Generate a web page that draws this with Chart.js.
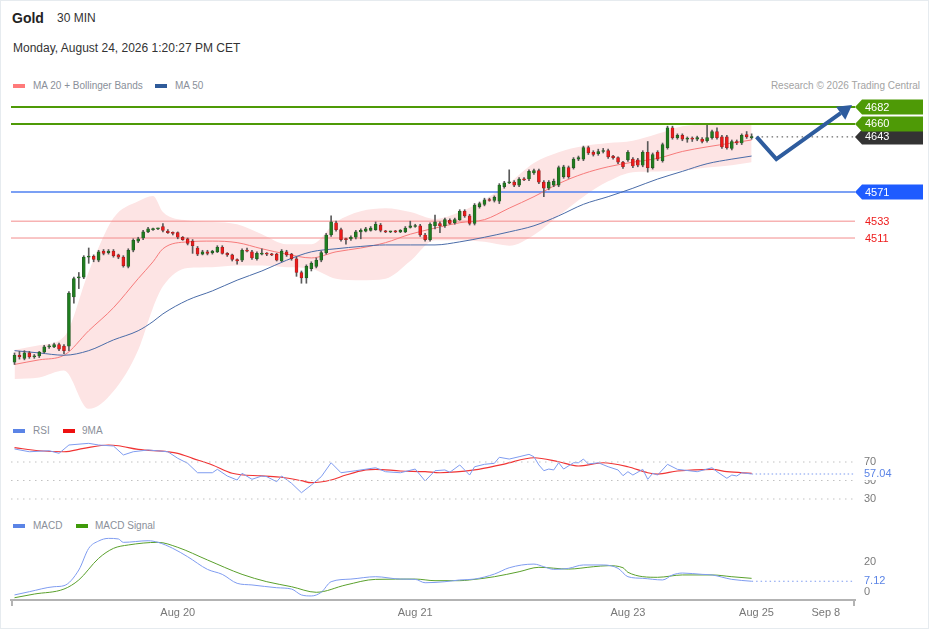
<!DOCTYPE html>
<html>
<head>
<meta charset="utf-8">
<title>Gold 30 MIN</title>
<script src="https://cdn.jsdelivr.net/npm/chart.js@4.4.1/dist/chart.umd.min.js"></script>
<style>
  html, body { margin: 0; padding: 0; background: #fff; }
  #page { position: relative; width: 929px; height: 629px; overflow: hidden;
          font-family: "Liberation Sans", Arial, sans-serif; box-shadow: inset 0 0 0 1px #e6ebef; }
  .txt { position: absolute; white-space: nowrap; }
  .sw { position: absolute; width: 12px; height: 4px; }
  canvas { position: absolute; left: 0; }
</style>
</head>
<body>
<div id="page">
  <div class="txt" style="left:12px;top:10px;font-size:14px;line-height:16px;font-weight:bold;color:#222">Gold</div>
  <div class="txt" style="left:57px;top:10px;font-size:12px;line-height:16px;color:#333">30 MIN</div>
  <div class="txt" style="left:13px;top:40px;font-size:12px;line-height:16px;color:#333">Monday, August 24, 2026 1:20:27 PM CET</div>

  <div class="sw" style="left:13px;top:84px;background:#ff7a7a"></div>
  <div class="txt" style="left:33px;top:80px;font-size:10px;line-height:12px;color:#8a8f99">MA 20 + Bollinger Bands</div>
  <div class="sw" style="left:155px;top:84px;background:#2f5b9a"></div>
  <div class="txt" style="left:175px;top:80px;font-size:10px;line-height:12px;color:#8a8f99">MA 50</div>
  <div class="txt" style="right:9px;top:80px;font-size:10px;line-height:12px;color:#a3a3a3">Research © 2026 Trading Central</div>

  <div class="sw" style="left:13px;top:429px;background:#5b84e6"></div>
  <div class="txt" style="left:33px;top:425px;font-size:10px;line-height:12px;color:#8a8f99">RSI</div>
  <div class="sw" style="left:63px;top:429px;background:#ee1111"></div>
  <div class="txt" style="left:82px;top:425px;font-size:10px;line-height:12px;color:#8a8f99">9MA</div>

  <div class="sw" style="left:13px;top:524px;background:#5b84e6"></div>
  <div class="txt" style="left:33px;top:520px;font-size:10px;line-height:12px;color:#8a8f99">MACD</div>
  <div class="sw" style="left:76px;top:524px;background:#3f9a0a"></div>
  <div class="txt" style="left:95px;top:520px;font-size:10px;line-height:12px;color:#8a8f99">MACD Signal</div>

  <canvas id="price" width="929" height="320" style="top:95px"></canvas>
  <canvas id="rsi" width="929" height="70" style="top:440px"></canvas>
  <canvas id="macd" width="929" height="99" style="top:530px"></canvas>
</div>

<script>
// 30 min candles, index 0 = first bar on the left
const open  = [4349,4358,4354,4361,4356,4357,4362,4369,4369,4372,4370,4370,4434,4459,4460,4486,4487,4482,4494,4492,
               4494,4489,4486,4474,4495,4507,4511,4519,4522,4523,4526,4520,4518,4518,4512,4510,4507,4498,4490,4493,
               4492,4493,4499,4491,4489,4483,4482,4495,4493,4484,4490,4491,4490,4490,4481,4493,4490,4484,4466,4459,
               4471,4474,4482,4492,4515,4531,4522,4510,4510,4512,4519,4520,4521,4522,4528,4520,4519,4520,4519,4519,
               4525,4526,4527,4515,4509,4527,4530,4527,4534,4531,4535,4546,4540,4530,4552,4555,4561,4560,4559,4578,
               4583,4584,4580,4588,4588,4596,4599,4584,4576,4580,4580,4591,4603,4603,4614,4614,4629,4623,4621,4624,
               4625,4618,4616,4610,4613,4614,4613,4606,4623,4603,4623,4612,4629,4655,4642,4645,4640,4641,4640,4640,
               4638,4642,4650,4643,4643,4628,4637,4635,4646,4642];
const high  = [4361,4363,4364,4363,4359,4363,4371,4372,4374,4374,4372,4441,4460,4466,4488,4498,4489,4495,4496,4496,
               4496,4490,4488,4497,4510,4512,4521,4525,4524,4524,4530,4522,4519,4519,4513,4511,4509,4500,4495,4495,
               4495,4501,4501,4492,4490,4484,4497,4498,4495,4493,4497,4492,4491,4491,4496,4495,4491,4486,4468,4476,
               4480,4485,4494,4517,4540,4533,4524,4511,4514,4521,4523,4525,4526,4532,4530,4521,4520,4521,4522,4526,
               4533,4529,4529,4517,4531,4541,4532,4537,4536,4537,4548,4548,4542,4556,4558,4563,4563,4566,4582,4585,
               4600,4586,4590,4590,4600,4601,4601,4586,4586,4588,4605,4606,4605,4616,4618,4631,4631,4625,4627,4628,
               4627,4619,4617,4611,4625,4616,4615,4625,4637,4622,4625,4635,4657,4657,4647,4647,4643,4643,4644,4642,
               4658,4652,4655,4645,4645,4639,4639,4647,4650,4647];
const low   = [4346,4353,4352,4354,4354,4355,4361,4367,4368,4364,4360,4364,4426,4445,4458,4478,4480,4480,4489,4490,
               4486,4484,4473,4472,4493,4505,4509,4518,4521,4522,4519,4517,4515,4510,4508,4502,4491,4488,4489,4489,
               4490,4492,4490,4487,4481,4477,4480,4493,4483,4482,4489,4488,4488,4481,4480,4487,4482,4461,4452,4452,
               4468,4472,4480,4490,4513,4520,4507,4503,4508,4510,4510,4519,4520,4521,4519,4518,4518,4518,4518,4518,
               4524,4525,4513,4507,4507,4523,4518,4525,4529,4529,4534,4538,4528,4528,4550,4553,4559,4558,4556,4576,
               4582,4578,4578,4586,4586,4594,4582,4565,4574,4578,4578,4589,4589,4601,4612,4612,4620,4618,4619,4622,
               4615,4614,4608,4602,4611,4603,4604,4604,4597,4601,4612,4610,4627,4640,4640,4638,4636,4637,4638,4635,
               4636,4640,4640,4628,4627,4626,4633,4633,4641,4640];
const close = [4358,4356,4361,4356,4357,4362,4369,4370,4372,4366,4364,4439,4458,4460,4486,4487,4483,4493,4491,4494,
               4488,4486,4475,4495,4508,4510,4519,4523,4523,4524,4521,4518,4517,4512,4509,4504,4501,4490,4493,4491,
               4494,4499,4491,4489,4483,4481,4495,4494,4485,4491,4491,4490,4489,4482,4494,4489,4484,4466,4459,4474,
               4478,4482,4492,4515,4532,4522,4509,4509,4512,4519,4521,4523,4524,4529,4521,4519,4520,4519,4521,4524,
               4527,4527,4515,4509,4529,4532,4527,4535,4530,4535,4546,4540,4530,4554,4556,4561,4560,4564,4580,4583,
               4584,4580,4588,4587,4598,4599,4584,4576,4584,4585,4603,4604,4591,4614,4616,4629,4622,4620,4624,4625,
               4617,4616,4610,4604,4623,4605,4606,4623,4603,4620,4614,4633,4655,4642,4645,4640,4641,4640,4642,4637,
               4642,4650,4642,4630,4629,4637,4635,4645,4643,4643];

// indicator lines read at these bar indices
const sampleIdx = [0,5,10,15,20,25,28,30,35,40,45,50,55,60,65,70,75,80,85,90,95,100,105,110,115,120,125,130,135,140,145,149];
const ma20    = [4346,4352,4358,4390,4420,4458,4480,4497,4506,4507,4505,4497,4490,4485,4493,4498,4505,4516,4524,4531,4535,4550,4565,4582,4595,4604,4610,4615,4624,4630,4635,4639];
const ma50    = [4364,4361,4358,4364,4378,4390,4402,4412,4430,4442,4456,4468,4482,4493,4497,4500,4502,4502,4502,4506,4512,4519,4527,4540,4555,4565,4576,4588,4598,4608,4614,4618];
const bbUpper = [4365,4371,4382,4467,4537,4559,4566,4545,4534,4532,4529,4516,4503,4503,4532,4546,4550,4545,4536,4545,4561,4583,4609,4623,4631,4635,4638,4647,4657,4659,4660,4659];
const bbLower = [4327,4329,4338,4288,4311,4365,4420,4448,4472,4473,4475,4475,4473,4471,4458,4456,4458,4481,4508,4508,4506,4501,4515,4540,4565,4585,4597,4598,4599,4603,4606,4610];

// price levels on the right
const levels    = [4682, 4660, 4643, 4571, 4533, 4511];
const levelKind = ['res', 'res', 'last', 'sup', 'pivot', 'pivot'];

// forecast arrow
const forecastIdx = [150, 154, 167];
const forecastVal = [4643, 4614, 4674];

// RSI panel
const rsiIdx = [0,3,7,9,11,15,17,20,22,24,27,31,33,35,37,40,41,43,45,46,48,50,51,53,54,56,58,60,62,64,66,69,73,75,78,81,83,85,87,88,
                90,92,93,95,97,98,100,102,104,105,106,107,108,109,110,111,113,114,115,116,118,120,122,123,124,125,127,128,129,130,
                132,134,138,141,142,144,145,146,147,149];
const rsi    = [84.1,81.1,82.2,79.4,88.4,90.2,88.4,87.3,77.6,81.1,83,81.1,74,68.6,58.4,58.4,62.1,54.9,50.5,57.8,51.3,54.9,54.1,48.7,54.9,
                47,36.8,45.1,54.1,69.2,58.4,60.6,63.8,59.5,58.4,62.4,49.5,60.6,61.4,58.9,66.8,55.9,64.9,67.5,68.6,75.1,73.2,75.7,78.3,75.7,
                66.8,60.6,62.4,61.4,69.2,62.4,69.2,69.2,73.2,67.8,69.2,64.9,61.4,55.2,59.5,55.9,62.1,51.3,57.8,55.9,67.5,62.1,59.5,63.8,59.5,
                52.4,55.9,54.9,58.4,57.04];
const rsiMaIdx = [0,5,10,14,19,21,25,31,33,36,40,44,50,54,58,60,64,67,71,73,78,83,86,93,99,105,110,114,119,124,128,130,134,141,144,149];
const rsiMa    = [85.5,82.2,81.1,84.8,88.4,87.6,83.7,81.1,79.4,74,66.8,57.8,54.9,53.5,49.8,47.6,50.5,55.9,61.4,62.1,60.3,59.5,58.4,61.4,67.8,
                  74.6,70.3,65.7,69.2,64.9,58.4,57,60.3,62.1,59.5,57.8];
const rsiLevels = [70, 50, 30];

// MACD panel
const macdIdx = [0,3,8,10,13,15,17,19,21,22,27,29,32,35,39,42,45,48,53,56,58,60,62,64,68,73,78,81,83,87,90,93,97,100,105,107,109,112,115,119,
                 122,124,127,131,133,135,139,141,145,149];
const macd    = [-2.2,0,3.4,4.1,14.8,29.5,34.5,36.3,35.9,33.6,34.7,33.6,29.5,23.8,15.2,11.8,5.7,4.6,2.7,1.8,-2.2,-2.9,-0.4,6.8,8.6,
                 10.2,8.6,8.4,6.1,6.8,8,8.6,12,16.3,18.8,17,15.2,15.9,18.2,18.2,15.9,10.2,9.1,8,11.4,12.7,11.8,11.4,8.4,7.12];
const signalIdx = [0,4,10,13,17,20,23,29,33,39,46,51,56,61,67,73,81,85,90,92,97,102,106,112,117,120,123,124,130,135,141,145,149];
const signal    = [-4.1,-1.6,1.8,8,22.7,29.5,31.8,33.6,30.2,21.6,11.8,6.8,3.4,-0.4,4.6,8.4,8.6,7.5,7.5,8,10.2,13.6,16.6,15.4,17,17.7,
                   16.3,13.2,9.8,11.4,11.4,10.2,9.1];
const macdLevels = [20, 0];

// time axis labels
const tickIdx  = [33, 81, 124, 150, 164];
const tickText = ['Aug 20', 'Aug 21', 'Aug 23', 'Aug 25', 'Sep 8'];

// ---- layout / style ----
const FONT = '"Liberation Sans", Arial, sans-serif';
const X_MIN = -0.71, X_MAX = 169.9;
const PAD = {left: 11, right: 74, top: 0, bottom: 0};
const lastIdx = close.length - 1;
const kindStyle = {
  res:   {line: '#4e9a06', width: 2, box: '#4e9a06'},
  last:  {line: '#444444', width: 1, box: '#333333', dash: [1.5, 3.5]},
  sup:   {line: '#4f80f0', width: 1.5, box: '#1e5cff'},
  pivot: {line: '#f38c8c', width: 1, text: '#ee1c1c'}
};

const pts = (xs, ys) => xs.map((x, i) => ({x: x, y: ys[i]}));
const flat = (x0, x1, v) => [{x: x0, y: v}, {x: x1, y: v}];

function xAxis(show) {
  const axis = {
    type: 'linear', min: X_MIN, max: X_MAX, offset: false, display: show,
    grid: {display: false, drawTicks: false},
    border: {display: show, color: '#b3b3b3', width: 2},
    afterBuildTicks: (s) => { s.ticks = tickIdx.map(v => ({value: v})); },
    ticks: {
      autoSkip: false, maxRotation: 0, padding: 6, color: '#777',
      font: {family: FONT, size: 11},
      callback: (v) => tickText[tickIdx.indexOf(v)]
    }
  };
  if (show) axis.afterFit = (s) => { s.height = 29; };
  return axis;
}

function baseOptions(yMin, yMax, showX) {
  return {
    responsive: false, animation: false,
    layout: {padding: PAD},
    plugins: {legend: {display: false}, tooltip: {enabled: false}},
    scales: {x: xAxis(showX), y: {type: 'linear', display: false, min: yMin, max: yMax}}
  };
}

// labels at the right of the RSI / MACD panels
function sideLabels(values, current, color) {
  return {
    id: 'sideLabels',
    afterDraw(chart) {
      const {ctx, chartArea: ca, scales: {y}} = chart;
      ctx.save();
      ctx.font = '11px ' + FONT;
      ctx.textBaseline = 'middle';
      ctx.fillStyle = '#7a7a7a';
      values.forEach(v => ctx.fillText(String(v), ca.right + 9, y.getPixelForValue(v)));
      const cy = y.getPixelForValue(current);
      const t = current.toFixed(2);
      ctx.fillStyle = '#fff';
      ctx.fillRect(ca.right + 8, cy - 6, ctx.measureText(t).width + 2, 12);
      ctx.fillStyle = color;
      ctx.fillText(t, ca.right + 9, cy);
      ctx.restore();
    }
  };
}

// ---- price chart ----
const bodyUp = open.map((o, i) => close[i] >= o);
const priceSets = [
  {type: 'line', data: pts(sampleIdx, bbUpper), borderColor: 'transparent', borderWidth: 0, pointRadius: 0,
   fill: '+1', backgroundColor: '#fde4e4', cubicInterpolationMode: 'monotone', order: 20},
  {type: 'line', data: pts(sampleIdx, bbLower), borderColor: 'transparent', borderWidth: 0, pointRadius: 0,
   fill: false, cubicInterpolationMode: 'monotone', order: 20}
];
levels.forEach((v, i) => {
  const st = kindStyle[levelKind[i]];
  priceSets.push({type: 'line', data: flat(levelKind[i] === 'last' ? lastIdx : X_MIN, X_MAX, v),
    borderColor: st.line, borderWidth: st.width, borderDash: st.dash || [], pointRadius: 0, fill: false, order: 15});
});
priceSets.push(
  {type: 'line', data: pts(sampleIdx, ma50), borderColor: '#4a6ca8', borderWidth: 1, pointRadius: 0,
   fill: false, cubicInterpolationMode: 'monotone', order: 10},
  {type: 'line', data: pts(sampleIdx, ma20), borderColor: '#f77b7b', borderWidth: 1, pointRadius: 0,
   fill: false, cubicInterpolationMode: 'monotone', order: 10},
  {type: 'bar', data: open.map((o, i) => ({x: i, y: [low[i], high[i]]})), backgroundColor: '#5a5a5a',
   barThickness: 1, grouped: false, order: 2},
  {type: 'bar', data: open.map((o, i) => ({x: i, y: [o, close[i]]})),
   backgroundColor: bodyUp.map(u => u ? '#1f7d1f' : '#ee1b1b'),
   borderColor: bodyUp.map(u => u ? '#245a24' : '#9a2222'),
   borderWidth: 0.7, borderSkipped: false, barThickness: 3, grouped: false, minBarLength: 1, order: 1},
  {type: 'line', data: pts(forecastIdx, forecastVal), borderColor: '#2e5c9e', borderWidth: 4,
   borderJoinStyle: 'miter', borderCapStyle: 'butt', pointRadius: 0, fill: false, order: 0}
);
const arrowSet = priceSets.length - 1;

const arrowHead = {
  id: 'arrowHead',
  afterDatasetsDraw(chart) {
    const p = chart.getDatasetMeta(arrowSet).data;
    const a = p[p.length - 2], b = p[p.length - 1];
    const len = Math.hypot(b.x - a.x, b.y - a.y);
    const ux = (b.x - a.x) / len, uy = (b.y - a.y) / len;
    const ctx = chart.ctx;
    ctx.save();
    ctx.fillStyle = '#2e5c9e';
    ctx.beginPath();
    ctx.moveTo(b.x + ux * 14, b.y + uy * 14);
    ctx.lineTo(b.x - uy * 8, b.y + ux * 8);
    ctx.lineTo(b.x + uy * 8, b.y - ux * 8);
    ctx.closePath();
    ctx.fill();
    ctx.restore();
  }
};

const levelLabels = {
  id: 'levelLabels',
  afterDraw(chart) {
    const {ctx, chartArea: ca, scales: {y}} = chart;
    ctx.save();
    ctx.font = '11px ' + FONT;
    ctx.textBaseline = 'middle';
    const order = levels.map((v, i) => i).sort((a, b) => levels[a] - levels[b]);
    order.forEach(i => {
      const st = kindStyle[levelKind[i]];
      const yy = y.getPixelForValue(levels[i]);
      if (st.box) {
        ctx.fillStyle = st.box;
        ctx.beginPath();
        ctx.moveTo(ca.right, yy);
        ctx.lineTo(ca.right + 7, yy - 7.5);
        ctx.lineTo(923, yy - 7.5);
        ctx.lineTo(923, yy + 7.5);
        ctx.lineTo(ca.right + 7, yy + 7.5);
        ctx.closePath();
        ctx.fill();
        ctx.fillStyle = '#fff';
      } else {
        ctx.fillStyle = st.text;
      }
      ctx.fillText(String(levels[i]), ca.right + 10, yy + 0.5);
    });
    ctx.restore();
  }
};

new Chart(document.getElementById('price'), {
  type: 'bar',
  data: {datasets: priceSets},
  options: baseOptions(4280, 4697.7, false),
  plugins: [arrowHead, levelLabels]
});

// ---- RSI ----
new Chart(document.getElementById('rsi'), {
  type: 'line',
  data: {datasets: [
    ...rsiLevels.map(v => ({data: flat(X_MIN, X_MAX, v), borderColor: '#c2c2c2', borderWidth: 1.2,
      borderDash: [1.5, 4.5], pointRadius: 0})),
    {data: pts(rsiIdx, rsi), borderColor: '#7f9cf0', borderWidth: 1, pointRadius: 0, tension: 0},
    {data: pts(rsiMaIdx, rsiMa), borderColor: '#f03434', borderWidth: 1.2, pointRadius: 0, cubicInterpolationMode: 'monotone'},
    {data: flat(lastIdx, X_MAX, rsi[rsi.length - 1]), borderColor: '#7f9cf0', borderWidth: 1.2,
      borderDash: [1.5, 2.5], pointRadius: 0}
  ]},
  options: baseOptions(18.1, 93.8, false),
  plugins: [sideLabels(rsiLevels, rsi[rsi.length - 1], '#5b84e6')]
});

// ---- MACD ----
const axisEnds = {
  id: 'axisEnds',
  afterDraw(chart) {
    const {ctx, chartArea: ca} = chart;
    ctx.save();
    ctx.strokeStyle = '#b3b3b3';
    ctx.lineWidth = 2;
    [ca.left + 1, ca.right - 1].forEach(x => {
      ctx.beginPath(); ctx.moveTo(x, ca.bottom); ctx.lineTo(x, ca.bottom + 6); ctx.stroke();
    });
    ctx.restore();
  }
};

new Chart(document.getElementById('macd'), {
  type: 'line',
  data: {datasets: [
    {data: pts(macdIdx, macd), borderColor: '#7f9cf0', borderWidth: 1, pointRadius: 0, cubicInterpolationMode: 'monotone'},
    {data: pts(signalIdx, signal), borderColor: '#5aa02c', borderWidth: 1, pointRadius: 0, cubicInterpolationMode: 'monotone'},
    {data: flat(lastIdx, X_MAX, macd[macd.length - 1]), borderColor: '#7f9cf0', borderWidth: 1.2,
      borderDash: [1.5, 3], pointRadius: 0}
  ]},
  options: baseOptions(-5.65, 42, true),
  plugins: [sideLabels(macdLevels, macd[macd.length - 1], '#5b84e6'), axisEnds]
});
</script>
</body>
</html>
